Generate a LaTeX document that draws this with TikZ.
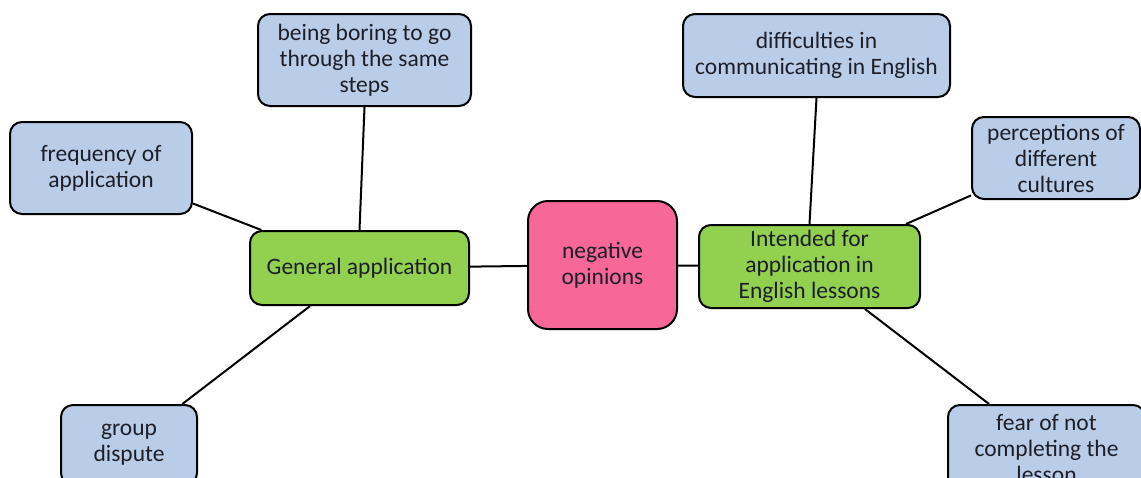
\documentclass[tikz,border=0pt]{standalone}
\usepackage{fontspec}
\setmainfont{Carlito}
\definecolor{bluefill}{RGB}{185,205,232}
\definecolor{greenfill}{RGB}{146,208,80}
\definecolor{pinkfill}{RGB}{247,104,152}
\definecolor{txt}{RGB}{30,30,40}
\begin{document}
\begin{tikzpicture}[x=1pt,y=-1pt,
  base/.style={draw=black, line width=2pt, rounded corners=12pt, align=center,
    font=\fontsize{23.5}{26}\selectfont, text=txt, inner sep=0pt},
  bluebox/.style={base, fill=bluefill},
  greenbox/.style={base, fill=greenfill},
  pinkbox/.style={base, fill=pinkfill, rounded corners=20pt},
  link/.style={draw=black, line width=2pt}]
\clip (0,0) rectangle (1141,477);
\fill[white] (0,0) rectangle (1141,477);
% links (drawn first, boxes cover them)
\node[bluebox, minimum width=213pt, minimum height=92pt] (boring) at (364.5,60) {being boring to go\\through the same\\steps};
\node[bluebox, minimum width=182pt, minimum height=92pt] (freq) at (101,168) {frequency of\\application};
\node[greenbox, minimum width=219pt, minimum height=74pt] (gen) at (359.5,268) {General application};
\node[pinkbox, minimum width=149pt, minimum height=128pt] (neg) at (602.5,265) {negative\\opinions};
\node[greenbox, minimum width=221pt, minimum height=83pt] (int) at (809.5,266.5) {Intended for\\application in\\English lessons};
\node[bluebox, minimum width=267pt, minimum height=83pt] (diff) at (816.5,55.5) {difficulties in\\communicating in English};
\node[bluebox, minimum width=168pt, minimum height=82pt] (perc) at (1056,158) {perceptions of\\different\\cultures};
\node[bluebox, minimum width=136pt, minimum height=80pt] (group) at (129,445) {group\\dispute};
\node[bluebox, minimum width=197pt, minimum height=86pt, text depth=0pt] (fear) at (1046.5,448) {fear of not\\completing the\\lesson};
\draw[link] (boring.south) -- (gen.north);
\draw[link] (freq) -- (gen);
\draw[link] (gen) -- (group);
\draw[link] (gen) -- (neg);
\draw[link] (neg) -- (int);
\draw[link] (diff.south) -- (int.north);
\draw[link] (perc) -- (int);
\draw[link] (int) -- (fear);
\end{tikzpicture}
\end{document}
